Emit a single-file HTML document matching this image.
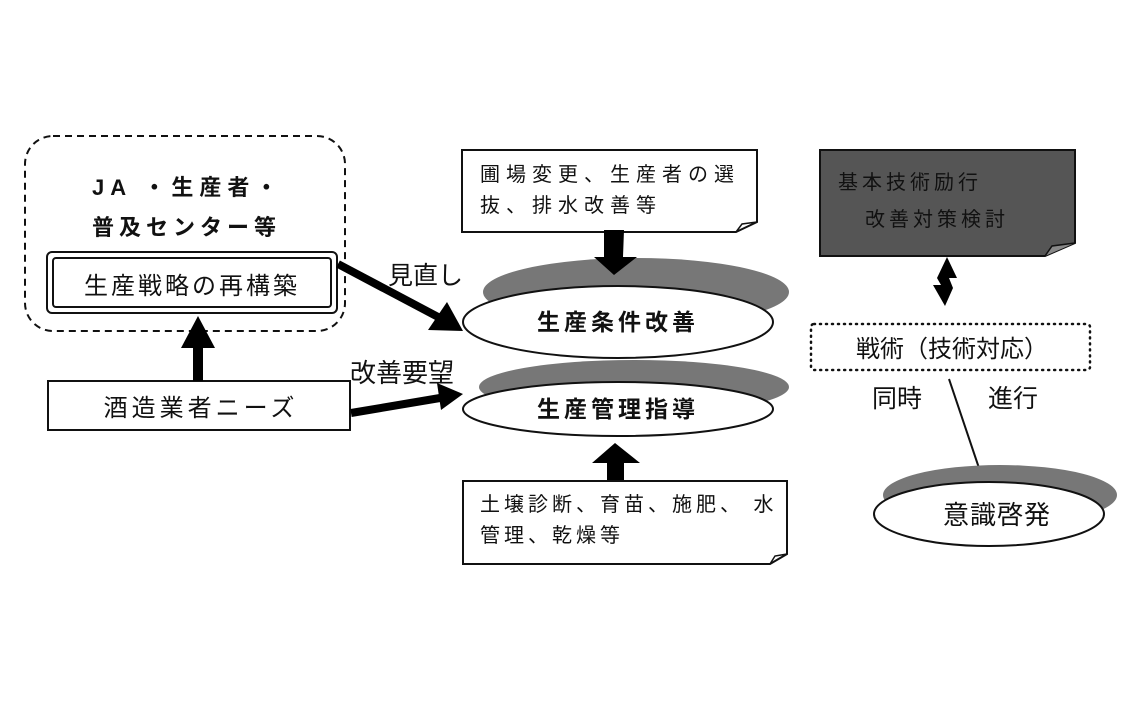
<!DOCTYPE html>
<html><head><meta charset="utf-8"><style>
body{margin:0;background:#fff;width:1142px;height:714px;overflow:hidden}
text{font-family:"Liberation Sans","Noto Sans CJK JP",sans-serif;fill:#111}
</style></head><body>
<svg width="1142" height="714" viewBox="0 0 1142 714" xmlns="http://www.w3.org/2000/svg">
<!-- left group -->
<rect x="25" y="136" width="320" height="195" rx="28" fill="none" stroke="#111" stroke-width="2" stroke-dasharray="7,5"/>
<text x="92" y="195" font-size="22" font-weight="bold" letter-spacing="6">JA ・生産者・</text>
<text x="92" y="235" font-size="22" font-weight="bold" letter-spacing="5">普及センター等</text>
<rect x="47" y="252" width="290" height="61" rx="5" fill="#fff" stroke="#111" stroke-width="2"/>
<rect x="53" y="258" width="278" height="49" rx="3" fill="none" stroke="#111" stroke-width="2"/>
<text x="192" y="294" font-size="24" text-anchor="middle" letter-spacing="3">生産戦略の再構築</text>
<rect x="48" y="381" width="302" height="49" fill="#fff" stroke="#111" stroke-width="2"/>
<text x="201" y="416" font-size="24" text-anchor="middle" letter-spacing="4">酒造業者ニーズ</text>
<polygon points="193,381 203,381 203,348 215,348 198,316 181,348 193,348" fill="#000"/>
<line x1="338" y1="264" x2="440" y2="318" stroke="#000" stroke-width="8"/>
<polygon points="463,331 428,330 447,302" fill="#000"/>
<text x="388" y="284" font-size="25">見直し</text>
<line x1="351" y1="413" x2="440" y2="398" stroke="#000" stroke-width="8"/>
<polygon points="463,394 437,383 441,410" fill="#000"/>
<text x="350" y="382" font-size="26">改善要望</text>
<!-- ellipse 1 -->
<ellipse cx="636" cy="292" rx="153" ry="34" fill="#777"/>
<ellipse cx="618" cy="322" rx="155" ry="36" fill="#fff" stroke="#111" stroke-width="2"/>
<text x="618" y="330" font-size="23" font-weight="bold" text-anchor="middle" letter-spacing="4">生産条件改善</text>
<!-- ellipse 2 -->
<ellipse cx="634" cy="387" rx="155" ry="27" fill="#777"/>
<ellipse cx="618" cy="409" rx="155" ry="27" fill="#fff" stroke="#111" stroke-width="2"/>
<text x="618" y="417" font-size="23" font-weight="bold" text-anchor="middle" letter-spacing="4">生産管理指導</text>
<!-- top note -->
<path d="M462,150 H757 V222 L736,232 H462 Z" fill="#fff" stroke="#111" stroke-width="2"/>
<path d="M736,232 L742,224 L757,222" fill="none" stroke="#111" stroke-width="1.5"/>
<text x="480" y="181" font-size="20" letter-spacing="6">圃場変更、生産者の選</text>
<text x="480" y="212" font-size="20" letter-spacing="6">抜、排水改善等</text>
<polygon points="604,230 624,230 623,257 637,257 614,275 594,257 604,257" fill="#000"/>
<polygon points="607,481 624,481 624,463 640,463 615,443 592,463 607,463" fill="#000"/>
<!-- bottom note -->
<path d="M463,481 H787 V554 L770,564 H463 Z" fill="#fff" stroke="#111" stroke-width="2"/>
<path d="M770,564 L775,556 L787,554" fill="none" stroke="#111" stroke-width="1.5"/>
<text x="480" y="511" font-size="20" letter-spacing="4">土壌診断、育苗、施肥、 水</text>
<text x="480" y="542" font-size="20" letter-spacing="4">管理、乾燥等</text>
<!-- right dark -->
<path d="M820,150 H1075 V243 L1045,256 H820 Z" fill="#555" stroke="#111" stroke-width="2"/>
<path d="M1045,256 L1052,246 L1075,243" fill="#888" stroke="#111" stroke-width="1.5"/>
<text x="838" y="189" font-size="20" letter-spacing="4">基本技術励行</text>
<text x="865" y="226" font-size="20" letter-spacing="4">改善対策検討</text>
<polygon points="947,257 957,278 949,278 953,288 945,306 933,285 941,285 937,278" fill="#000"/>
<rect x="811" y="324" width="279" height="46" rx="3" fill="none" stroke="#111" stroke-width="2.5" stroke-dasharray="1,5" stroke-linecap="round"/>
<text x="952" y="357" font-size="24" text-anchor="middle">戦術（技術対応）</text>
<text x="872" y="407" font-size="25">同時</text>
<text x="988" y="407" font-size="25">進行</text>
<line x1="949" y1="379" x2="981" y2="474" stroke="#111" stroke-width="2"/>
<ellipse cx="1000" cy="495" rx="117" ry="30" fill="#777"/>
<ellipse cx="989" cy="514" rx="115" ry="32" fill="#fff" stroke="#111" stroke-width="2"/>
<text x="997" y="524" font-size="26" text-anchor="middle" letter-spacing="1">意識啓発</text>
</svg>
</body></html>
